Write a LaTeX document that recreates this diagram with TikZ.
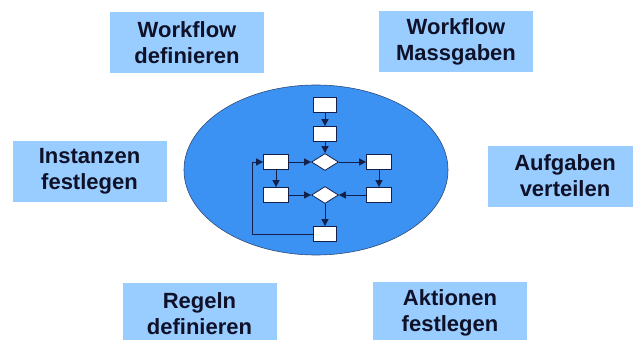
\documentclass[tikz,border=0pt]{standalone}
\usepackage{fontspec}
\setmainfont{Liberation Sans}
\usetikzlibrary{shapes.geometric,arrows.meta}
\definecolor{taskfill}{HTML}{99CCFF}
\definecolor{taskink}{HTML}{0E1128}
\definecolor{poolblue}{HTML}{3B92F2}
\definecolor{poolrim}{HTML}{2F4A78}
\definecolor{flowink}{HTML}{14204A}
\begin{document}
\begin{tikzpicture}[x=1pt,y=-1pt,
  task/.style={fill=taskfill,minimum width=154pt,minimum height=61pt,inner sep=0pt,
    align=center,text=taskink,font=\bfseries\fontsize{22}{26}\selectfont},
  fbox/.style={draw=flowink,line width=0.8pt,fill=white,minimum width=23pt,minimum height=15pt,inner sep=0pt},
  wbox/.style={fbox,minimum width=25pt},
  fdia/.style={diamond,draw=flowink,line width=0.8pt,fill=white,minimum width=27pt,minimum height=17pt,inner sep=0pt},
  arr/.style={draw=flowink,line width=0.9pt,-{Triangle[length=7pt,width=7pt]}}
]
\useasboundingbox (0,0) rectangle (633,340);

% task boxes around the process
\node[task] (wdef) at (187,42.5) {Workflow\\definieren};
\node[task] (wmas) at (456,41.5) {Workflow\\Massgaben};
\node[task] (inst) at (89.5,171.5) {Instanzen\\festlegen};
\node[task] (aufg) at (565,176) {Aufgaben\\verteilen};
\node[task] (regl) at (199.5,313.5) {Regeln\\definieren};
\node[task] (aktn) at (450,312.5) {Aktionen\\festlegen};

% process pool
\node[ellipse,fill=poolblue,draw=poolrim,line width=0.6pt,minimum width=264pt,minimum height=170pt,inner sep=0pt] (pool) at (316,170) {};

% small flowchart inside the pool
\node[fbox] (f1) at (325,105) {};
\node[fbox] (f2) at (325,134) {};
\node[fdia] (d1) at (325,162) {};
\node[wbox] (lb) at (276,162) {};
\node[wbox] (rb) at (379,162) {};
\node[wbox] (llb) at (276,195) {};
\node[fdia] (d2) at (325,195) {};
\node[wbox] (rlb) at (379,195) {};
\node[fbox] (f3) at (325,234) {};
\coordinate (loop) at (252,200);

\draw[arr] (f1) -- (f2);
\draw[arr] (f2) -- (d1);
\draw[arr] (lb) -- (d1);
\draw[arr] (d1) -- (rb);
\draw[arr] (lb) -- (llb);
\draw[arr] (rb) -- (rlb);
\draw[arr] (llb) -- (d2);
\draw[arr] (rlb) -- (d2);
\draw[arr] (d2) -- (f3);
\draw[arr] (f3.west) -| (loop |- lb.west) -- (lb.west);
\end{tikzpicture}
\end{document}
